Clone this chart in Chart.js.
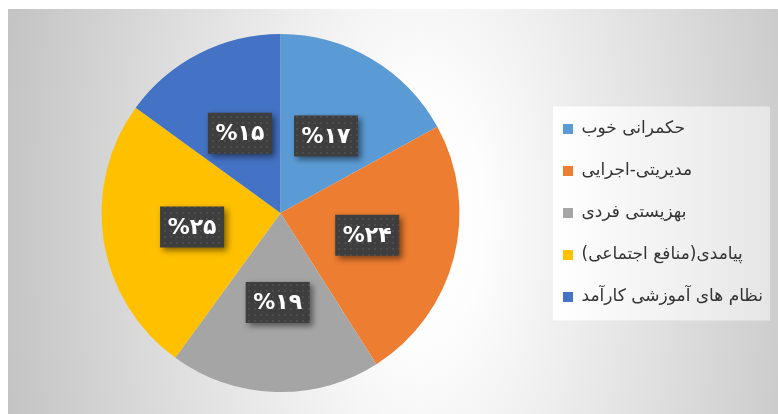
<!DOCTYPE html>
<html><head><meta charset="utf-8">
<script src="https://cdn.jsdelivr.net/npm/chart.js@4"></script>
<style>html,body{margin:0;padding:0;background:#fff;overflow:hidden}</style>
</head><body>
<canvas id="c" width="778" height="414" style="width:778px;height:414px;display:block"></canvas>
<script>
const categories = ['حکمرانی خوب', 'مدیریتی-اجرایی', 'بهزیستی فردی', 'پیامدی(منافع اجتماعی)', 'نظام های آموزشی کارآمد'];
const values = [17, 24, 19, 25, 15];
const valueLabels = ['%۱۷', '%۲۴', '%۱۹', '%۲۵', '%۱۵'];
const sliceColors = ['#5B9BD5', '#ED7D31', '#A5A5A5', '#FFC000', '#4472C4'];

// dotted dark pattern for label boxes
const pc = document.createElement('canvas');
pc.width = 6; pc.height = 6;
const pctx = pc.getContext('2d');
pctx.fillStyle = '#3e3e3e'; pctx.fillRect(0, 0, 6, 6);
pctx.fillStyle = '#4d4d4d'; pctx.fillRect(2, 2, 2, 2);
const boxPattern = pctx.createPattern(pc, 'repeat');

const background = {
  id: 'background',
  beforeDraw(chart) {
    const ctx = chart.ctx, W = chart.width, H = chart.height;
    ctx.save();
    ctx.fillStyle = '#ffffff';
    ctx.fillRect(0, 0, W, H);
    ctx.beginPath(); ctx.rect(8, 9, W - 8, H - 9); ctx.clip();
    ctx.translate(420, 220);
    ctx.scale(1, 2.0);
    const g = ctx.createRadialGradient(0, 0, 0, 0, 0, 420);
    g.addColorStop(0, '#ffffff');
    g.addColorStop(0.15, '#fdfdfd');
    g.addColorStop(1, '#c4c4c4');
    ctx.fillStyle = g;
    ctx.fillRect(-500, -300, 1000, 600);
    ctx.restore();
    // legend panel
    const lg = chart.legend;
    if (lg && lg.legendHitBoxes && lg.legendHitBoxes.length) {
      const hb = lg.legendHitBoxes;
      const top = hb[0].top - 14, bottom = hb[hb.length - 1].top + hb[hb.length - 1].height + 15;
      const left = lg.left + 15, right = lg.right;
      const lg2 = ctx.createLinearGradient(left, 0, right, 0);
      lg2.addColorStop(0, '#ffffff');
      lg2.addColorStop(1, '#e6e6e6');
      ctx.save();
      ctx.fillStyle = lg2;
      ctx.fillRect(left, top, right - left, bottom - top);
      ctx.restore();
    }
  }
};

const boxLabels = {
  id: 'boxLabels',
  afterDatasetsDraw(chart) {
    const ctx = chart.ctx;
    const meta = chart.getDatasetMeta(0);
    meta.data.forEach((arc, i) => {
      const p = arc.tooltipPosition();
      const w = 64, h = 41;
      ctx.save();
      ctx.shadowColor = 'rgba(0,0,0,0.5)';
      ctx.shadowBlur = 6; ctx.shadowOffsetX = 3; ctx.shadowOffsetY = 3;
      ctx.fillStyle = boxPattern;
      ctx.fillRect(p.x - w / 2, p.y - h / 2, w, h);
      ctx.restore();
      ctx.save();
      ctx.fillStyle = '#ffffff';
      ctx.font = 'bold 22px "DejaVu Sans"';
      ctx.textAlign = 'center';
      ctx.textBaseline = 'middle';
      ctx.fillText(valueLabels[i], p.x, p.y + 1);
      ctx.restore();
    });
  }
};

new Chart(document.getElementById('c'), {
  type: 'pie',
  data: {
    labels: categories,
    datasets: [{
      data: values,
      backgroundColor: sliceColors,
      borderWidth: 0
    }]
  },
  options: {
    responsive: false,
    animation: false,
    devicePixelRatio: 1,
    layout: { padding: { top: 34, bottom: 22, left: 23, right: 8 } },
    plugins: {
      tooltip: { enabled: false },
      legend: {
        position: 'right',
        maxWidth: 232,
        textDirection: 'rtl',
        labels: {
          font: { family: '"DejaVu Sans"', size: 17 },
          color: '#333333',
          boxWidth: 10,
          boxHeight: 10,
          padding: 25
        }
      }
    }
  },
  plugins: [background, boxLabels]
});
</script>
</body></html>
